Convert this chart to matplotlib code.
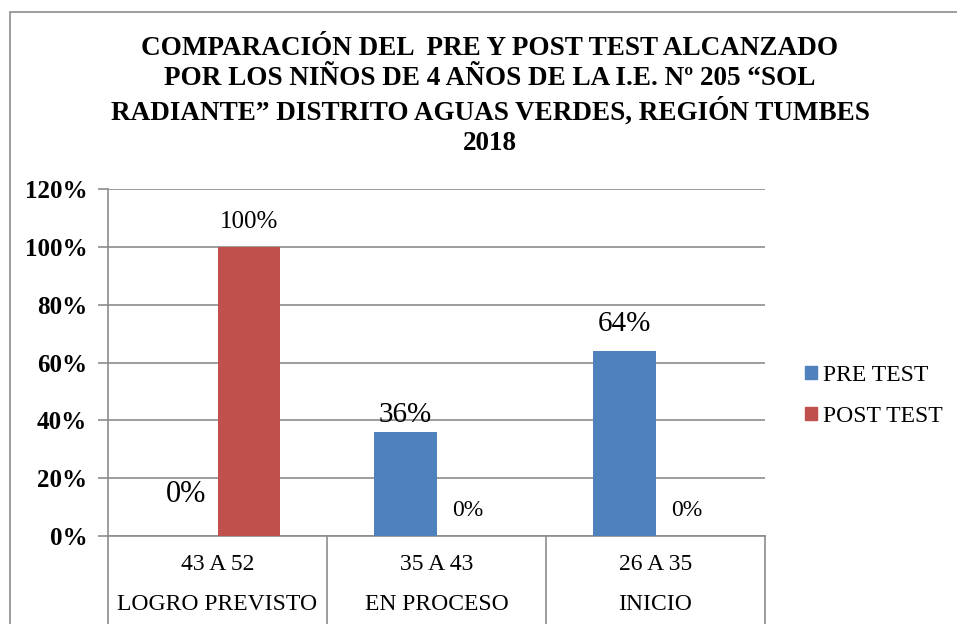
import matplotlib.pyplot as plt
from matplotlib.patches import Rectangle
import numpy as np

# data
rangos = ['43 A 52', '35 A 43', '26 A 35']
niveles = ['LOGRO PREVISTO', 'EN PROCESO', 'INICIO']
pre_test = [0.0, 0.36, 0.64]
post_test = [1.00, 0.0, 0.0]

titulo = ('COMPARACIÓN DEL  PRE Y POST TEST ALCANZADO\n'
          'POR LOS NIÑOS DE 4 AÑOS DE LA I.E. Nº 205 “SOL\n'
          'RADIANTE” DISTRITO AGUAS VERDES, REGIÓN TUMBES\n'
          '2018')

AZUL = '#4F81BD'
ROJO = '#C0504D'
GRIS = '#8c8c8c'

plt.rcParams['font.family'] = ['Liberation Serif', 'DejaVu Serif']

fig = plt.figure(figsize=(9.57, 6.24), dpi=100)
ax = fig.add_axes([108 / 957, 1 - 536 / 624, 657 / 957, 347 / 624])

# chart border
fig.patches.append(Rectangle((10 / 957, -0.1), 1.2, 1 - 12 / 624 + 0.1,
                             transform=fig.transFigure, fill=False,
                             edgecolor=GRIS, linewidth=1.2))

x = np.arange(len(rangos))
w = 0.284
b1 = ax.bar(x - w / 2, pre_test, w, color=AZUL, label='PRE TEST', zorder=3)
b2 = ax.bar(x + w / 2, post_test, w, color=ROJO, label='POST TEST', zorder=3)

ax.set_xlim(-0.5, len(rangos) - 0.5)
ax.set_ylim(0, 1.2)
ax.set_yticks(np.arange(0, 1.21, 0.2))
ax.set_yticklabels([f'{int(round(v * 100))}%' for v in np.arange(0, 1.21, 0.2)],
                   fontsize=18, fontweight='bold')
ax.yaxis.grid(True, color=GRIS, linewidth=1.2, zorder=0)
ax.tick_params(axis='y', length=7, color=GRIS, width=1.2, pad=8)
ax.set_xticks([])
for s in ['top', 'right']:
    ax.spines[s].set_visible(False)
for s in ['left', 'bottom']:
    ax.spines[s].set_color(GRIS)
    ax.spines[s].set_linewidth(1.2)

# data labels (bar, value, size, offset in px above bar top)
etiquetas = [
    (b1[0], pre_test[0], 22, 41),
    (b1[1], pre_test[1], 21, 17),
    (b1[2], pre_test[2], 21, 27),
    (b2[0], post_test[0], 18, 25),
    (b2[1], post_test[1], 17, 26),
    (b2[2], post_test[2], 17, 26),
]
for barra, val, size, off in etiquetas:
    ax.annotate(f'{int(round(val * 100))}%',
                (barra.get_x() + barra.get_width() / 2, barra.get_height()),
                xytext=(0, off * 0.72), textcoords='offset points',
                ha='center', va='center', fontsize=size)

# multi-level category axis
tr = ax.get_xaxis_transform()
for i in range(len(rangos) + 1):
    ax.plot([i - 0.5, i - 0.5], [0, -0.3], transform=tr, color=GRIS,
            linewidth=1.2, clip_on=False)
for i, (r, n) in enumerate(zip(rangos, niveles)):
    ax.text(i, -(565 - 536) / 347, r, transform=tr, ha='center', va='center',
            fontsize=17)
    ax.text(i, -(605 - 536) / 347, n, transform=tr, ha='center', va='center',
            fontsize=17)

fig.text(490 / 957, 1 - 96 / 624, titulo, ha='center', va='center',
         fontsize=19.5, fontweight='bold', linespacing=1.28)

handles = [Rectangle((0, 0), 1, 1, color=AZUL), Rectangle((0, 0), 1, 1, color=ROJO)]
fig.legend(handles, ['PRE TEST', 'POST TEST'], loc='center left',
           bbox_to_anchor=(784 / 957, 1 - 396 / 624), frameon=False,
           fontsize=17, handlelength=0.5, handleheight=0.5, handletextpad=0.25,
           labelspacing=0.85)

fig.savefig('out.png', dpi=100)
plt.close(fig)
